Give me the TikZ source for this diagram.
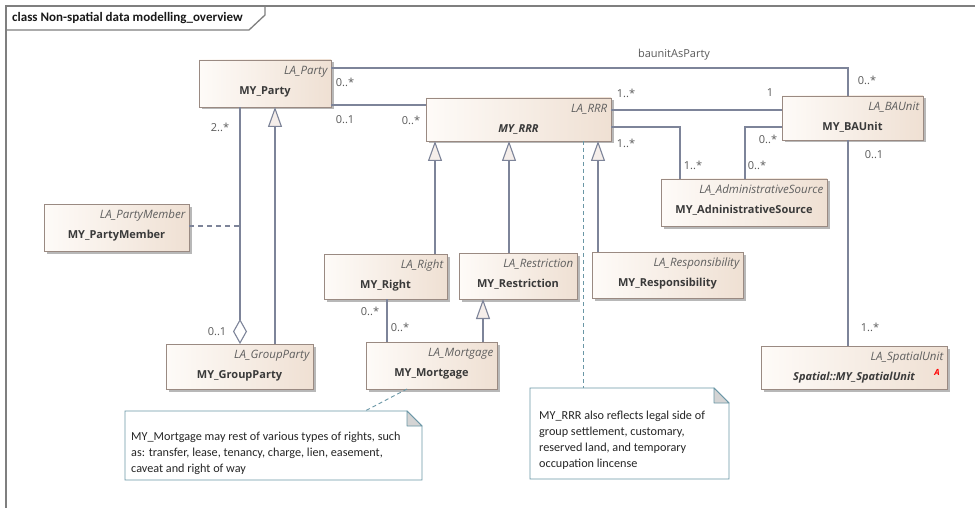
\documentclass[tikz,border=0pt]{standalone}
\usepackage{fontspec}
\setmainfont{Open Sans}
\newfontfamily\notefont{Carlito}
\usetikzlibrary{arrows.meta,calc,shadows}
\definecolor{conn}{HTML}{7D8499}
\definecolor{boxborder}{HTML}{9A8A82}
\definecolor{boxL}{HTML}{FEFBF8}
\definecolor{boxR}{HTML}{EFE0D3}
\definecolor{namec}{HTML}{3A3A3A}
\definecolor{stereoc}{HTML}{5F5F5F}
\definecolor{lbl}{HTML}{5A5A5A}
\definecolor{notebd}{HTML}{6A97A6}
\definecolor{framec}{HTML}{7F7F7F}
\definecolor{trif}{HTML}{F5EEEA}
\tikzset{
  conn/.style={draw=conn, line width=1.1pt},
  gen/.style={conn, -{Triangle[length=20pt,width=14pt,fill=trif]}},
  agg/.style={conn, {Diamond[length=25pt,width=14pt,fill=white]}-},
  mult/.style={font=\fontsize{11}{13}\selectfont, text=lbl, inner sep=0},
  clsbox/.style={draw=boxborder, line width=0.9pt, left color=boxL, right color=boxR,
    anchor=north west, inner sep=0, outer sep=0,
    drop shadow={shadow xshift=2.5pt, shadow yshift=-2.5pt, fill=black!28, opacity=1}},
  stereo/.style={font=\fontsize{11.5}{13}\selectfont\itshape, text=stereoc, anchor=east, inner sep=0},
  cname/.style={font=\fontsize{11}{13}\selectfont\bfseries, text=namec, inner sep=0},
  notelink/.style={draw=notebd, line width=0.9pt, dash pattern=on 4pt off 3pt},
  pmlink/.style={conn, dash pattern=on 5pt off 4pt},
  notetext/.style={font=\notefont\fontsize{12.2}{16}\selectfont, text=black!85, align=left, anchor=north west, inner sep=0},
}
\newcommand\umlcls[7]{%
  \node[clsbox, minimum width={(#4-#2)*1pt}, minimum height={(#5-#3)*1pt}] (#1) at (#2,#3) {};
  \node[stereo] at ($(#1.north east)+(-3.5,11.5)$) {#6};
  \node[cname] at ($(#1.north)+(0,31.5)$) {#7};
}
\newcommand\umlnote[6]{%
  \node[anchor=north west, minimum width={(#4-#2)*1pt}, minimum height={(#5-#3)*1pt}, inner sep=0, outer sep=0] (#1) at (#2,#3) {};
  \draw[draw=notebd, line width=0.9pt, fill=white] (#1.north west) -- ($(#1.north east)+(-#6,0)$) -- ($(#1.north east)+(0,#6)$) -- (#1.south east) -- (#1.south west) -- cycle;
  \filldraw[draw=notebd, line width=0.9pt, fill=black!17, line join=round] ($(#1.north east)+(-#6,0)$) -- ($(#1.north east)+(-#6,#6)$) -- ($(#1.north east)+(0,#6)$) -- cycle;
}
\begin{document}
\begin{tikzpicture}[x=1pt,y=-1pt]
\useasboundingbox (0,0) rectangle (975,508);
\fill[white] (0,0) rectangle (975,508);
% frame
\draw[framec, line width=1.3pt] (975,6) -- (6,6) -- (6,508);
\draw[framec, line width=1.3pt] (6,30) -- (249,30) -- (265,15) -- (265,6);
\node[anchor=west, inner sep=0, font=\notefont\fontsize{13}{15}\selectfont\bfseries, text=black!90] (title) at (12,18) {class Non-spatial data modelling\_overview};

% classes
\umlcls{party}{199}{60}{331}{107}{LA\_Party}{MY\_Party}
\umlcls{rrr}{426}{98}{611}{141}{LA\_RRR}{\itshape MY\_RRR}
\umlcls{baunit}{782}{96}{923}{140}{LA\_BAUnit}{MY\_BAUnit}
\umlcls{admin}{661}{179}{827}{226}{LA\_AdministrativeSource}{MY\_AdninistrativeSource}
\umlcls{partymember}{44}{204}{189}{251}{LA\_PartyMember}{MY\_PartyMember}
\umlcls{groupparty}{166}{344}{313}{389}{LA\_GroupParty}{MY\_GroupParty}
\umlcls{right}{324}{254}{447}{299}{LA\_Right}{MY\_Right}
\umlcls{restriction}{459}{253}{577}{299}{LA\_Restriction}{MY\_Restriction}
\umlcls{responsibility}{592}{252}{743}{298}{LA\_Responsibility}{MY\_Responsibility}
\umlcls{mortgage}{366}{342}{497}{389}{LA\_Mortgage}{MY\_Mortgage}
\umlcls{spatial}{761}{346}{947}{389}{LA\_SpatialUnit}{\itshape Spatial::MY\_SpatialUnit}
\node[inner sep=0, text=red, font=\fontsize{8.5}{10}\selectfont\bfseries\itshape] (abstractA) at ($(spatial.north east)+(-10,26)$) {A};

% notes
\umlnote{mnote}{125}{411}{422}{480}{15}
\node[notetext] (mnotetext) at ($(mnote.north west)+(6,21)$) {MY\_Mortgage may rest of various types of rights, such\\as: transfer, lease, tenancy, charge, lien, easement,\\caveat and right of way};
\umlnote{rnote}{530}{388}{729}{479}{15}
\node[notetext] (rnotetext) at ($(rnote.north west)+(9,23)$) {MY\_RRR also reflects legal side of\\group settlement, customary,\\reserved land, and temporary\\occupation lincense};

% associations
\draw[conn] (party.east |- 0,68) -| (baunit.north -| 848,0);
\node[mult] (lblbaunitasparty) at (674,55) {baunitAsParty};
\node[mult] at (345,82) {0..*};
\node[mult] at (867,80) {0..*};

\draw[conn] (party.east |- 0,105) -- (rrr.west |- 0,105);
\node[mult] at (345,120) {0..1};
\node[mult] at (411,120) {0..*};

\draw[conn] (rrr.east |- 0,110) -- (baunit.west |- 0,110);
\node[mult] at (626,93) {1..*};
\node[mult] at (770,93) {1};

\draw[conn] (rrr.east |- 0,127) -| (admin.north -| 680,0);
\node[mult] at (626,143) {1..*};
\node[mult] at (693,165) {1..*};

\draw[conn] (baunit.west |- 0,127) -| (admin.north -| 745,0);
\node[mult] at (768,139) {0..*};
\node[mult] at (757,165) {0..*};

\draw[conn] (baunit.south -| 848,0) -- (spatial.north -| 848,0);
\node[mult] at (874,155) {0..1};
\node[mult] at (870,327) {1..*};

\draw[agg] (groupparty.north -| 240,0) -- (party.south -| 240,0);
\node[mult] at (220,127) {2..*};
\node[mult] at (217,332) {0..1};
\coordinate (aggpt) at (240,226);
\draw[pmlink] (partymember.east |- aggpt) -- (aggpt);

\draw[conn] (right.south -| 387,0) -- (mortgage.north -| 387,0);
\node[mult] at (370,311) {0..*};
\node[mult] at (400,327) {0..*};

% generalizations
\draw[gen] (groupparty.north -| 275,0) -- (party.south -| 275,0);
\draw[gen] (right.north -| 435,0) -- (rrr.south -| 435,0);
\draw[gen] (restriction.north -| 509,0) -- (rrr.south -| 509,0);
\draw[gen] (responsibility.north -| 598,0) -- (rrr.south -| 598,0);
\draw[gen] (mortgage.north -| 483,0) -- (restriction.south -| 483,0);

% note links
\draw[notelink] (rrr.south -| 583,0) -- (rnote.north -| 583,0);
\draw[notelink] (mortgage.south -| 407,0) -- (mnote.north -| 365,0);
\end{tikzpicture}
\end{document}
